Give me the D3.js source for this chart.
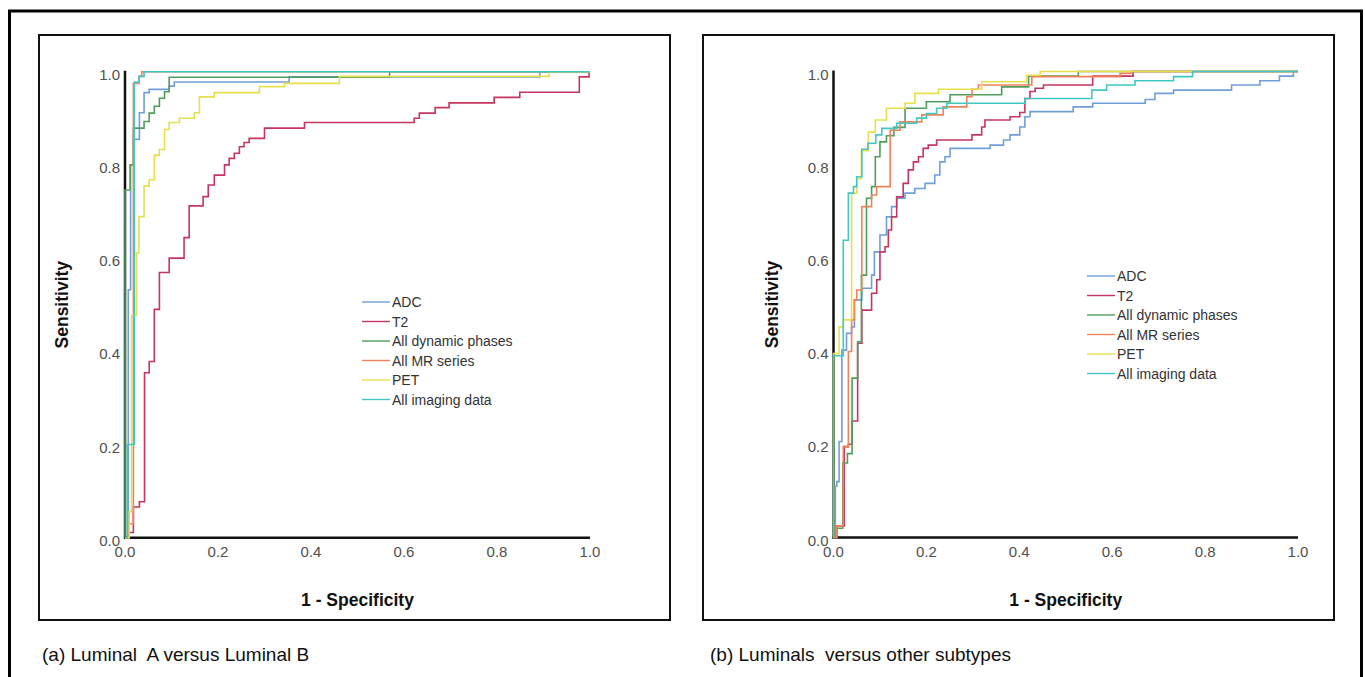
<!DOCTYPE html>
<html>
<head>
<meta charset="utf-8">
<script src="https://cdn.jsdelivr.net/npm/d3@7"></script>
<style>
  body { margin: 0; background: #fff; }
  svg text { font-family: "Liberation Sans", Arial, sans-serif; }
</style>
</head>
<body>
<svg id="chart" width="1365" height="677"></svg>
<script>
// series names + colours (same order in both panels)
const seriesNames = ["ADC", "T2", "All dynamic phases", "All MR series", "PET", "All imaging data"]
const seriesColors = ["#6f9fd8", "#c4365f", "#4f9d5c", "#f0825a", "#e6e04e", "#42c8c0"]
const ticks = [0, 0.2, 0.4, 0.6, 0.8, 1.0]
const captions = ["(a) Luminal  A versus Luminal B", "(b) Luminals  versus other subtypes"]

// ROC points [1 - specificity, sensitivity], drawn as steps (jump happens at x)
// (a) Luminal A vs Luminal B
const adcA = [[0,0],[0.007,0.532],[0.012,0.8],[0.018,0.855],[0.031,0.912],[0.041,0.955],[0.052,0.962],[0.095,0.969],[0.106,0.978],[0.353,0.989],[0.892,1.0],[1,1]]
const t2A = [[0,0],[0.009,0.011],[0.018,0.066],[0.031,0.077],[0.042,0.354],[0.052,0.378],[0.063,0.49],[0.074,0.569],[0.095,0.6],[0.127,0.644],[0.138,0.712],[0.168,0.732],[0.179,0.757],[0.192,0.778],[0.214,0.8],[0.224,0.814],[0.235,0.825],[0.246,0.839],[0.256,0.848],[0.267,0.857],[0.3,0.879],[0.386,0.891],[0.622,0.9],[0.633,0.911],[0.667,0.923],[0.697,0.933],[0.794,0.945],[0.849,0.956],[0.977,0.989],[0.998,1.0],[1,1]]
const dynA = [[0,0],[0,0.746],[0.011,0.8],[0.018,0.879],[0.041,0.893],[0.052,0.911],[0.063,0.926],[0.074,0.943],[0.085,0.957],[0.095,0.988],[0.569,1.0],[1,1]]
const mrA = [[0,0],[0.009,0.03],[0.018,0.975],[0.03,0.99],[0.036,1.0],[1,1]]
const petA = [[0,0],[0.009,0.056],[0.014,0.478],[0.025,0.611],[0.03,0.689],[0.041,0.755],[0.052,0.768],[0.063,0.821],[0.074,0.833],[0.085,0.876],[0.095,0.891],[0.117,0.9],[0.149,0.912],[0.16,0.946],[0.192,0.955],[0.289,0.968],[0.343,0.975],[0.461,0.99],[0.912,1.0],[1,1]]
const allA = [[0,0],[0.005,0.2],[0.02,0.978],[0.03,0.99],[0.041,1.0],[1,1]]

// (b) Luminals vs other subtypes
const adcB = [[0,0],[0.004,0.11],[0.007,0.12],[0.012,0.206],[0.018,0.402],[0.028,0.438],[0.039,0.452],[0.045,0.51],[0.061,0.535],[0.082,0.563],[0.088,0.613],[0.1,0.649],[0.114,0.688],[0.125,0.71],[0.136,0.728],[0.154,0.739],[0.175,0.749],[0.197,0.76],[0.218,0.778],[0.229,0.806],[0.24,0.817],[0.251,0.835],[0.337,0.842],[0.366,0.853],[0.38,0.864],[0.401,0.881],[0.412,0.903],[0.423,0.914],[0.516,0.924],[0.558,0.932],[0.671,0.94],[0.692,0.953],[0.732,0.96],[0.857,0.971],[0.918,0.98],[0.96,0.99],[0.99,1.0],[1,1]]
const t2B = [[0,0],[0.007,0.025],[0.023,0.195],[0.032,0.2],[0.04,0.25],[0.052,0.417],[0.061,0.488],[0.082,0.524],[0.093,0.553],[0.1,0.613],[0.111,0.624],[0.118,0.66],[0.125,0.688],[0.136,0.731],[0.15,0.76],[0.161,0.789],[0.172,0.806],[0.183,0.817],[0.193,0.835],[0.204,0.842],[0.222,0.853],[0.298,0.864],[0.319,0.881],[0.326,0.896],[0.38,0.903],[0.401,0.912],[0.412,0.942],[0.423,0.957],[0.434,0.964],[0.452,0.971],[0.558,0.99],[0.645,1.0],[1,1]]
const dynB = [[0,0],[0.007,0.02],[0.02,0.16],[0.03,0.18],[0.04,0.342],[0.052,0.42],[0.06,0.563],[0.071,0.728],[0.082,0.753],[0.09,0.817],[0.1,0.849],[0.114,0.862],[0.13,0.88],[0.154,0.921],[0.2,0.935],[0.251,0.95],[0.362,0.967],[0.42,0.99],[0.527,1.0],[1,1]]
const mrB = [[0,0],[0.007,0.025],[0.021,0.195],[0.032,0.399],[0.039,0.467],[0.045,0.51],[0.05,0.531],[0.061,0.71],[0.082,0.735],[0.093,0.753],[0.122,0.874],[0.143,0.892],[0.19,0.907],[0.236,0.924],[0.287,0.946],[0.298,0.962],[0.312,0.971],[0.427,0.989],[0.617,0.996],[0.64,1.0],[1,1]]
const petB = [[0,0],[0,0.395],[0.012,0.452],[0.021,0.467],[0.039,0.739],[0.05,0.77],[0.06,0.83],[0.075,0.87],[0.09,0.896],[0.114,0.921],[0.154,0.932],[0.175,0.953],[0.226,0.962],[0.319,0.978],[0.416,0.992],[0.445,1.0],[1,1]]
const allB = [[0,0],[0,0.39],[0.021,0.638],[0.032,0.739],[0.043,0.753],[0.05,0.774],[0.061,0.833],[0.074,0.846],[0.091,0.864],[0.104,0.878],[0.136,0.889],[0.179,0.9],[0.2,0.91],[0.222,0.921],[0.244,0.932],[0.412,0.942],[0.556,0.96],[0.588,0.971],[0.649,0.98],[0.732,0.989],[0.773,1.0],[1,1]]

const svg = d3.select("#chart")

// outer frame (bottom edge runs off the picture)
svg.append("path")
    .attr("d", "M9.5,690 L9.5,11 L1361.5,11 L1361.5,690")
    .attr("fill", "none")
    .attr("stroke", "#000")
    .attr("stroke-width", 3)

const panels = [
    {box: [39, 35, 670, 620], xr: [125, 590], yr: [537.7, 71.7], ytX: 62, leg: [362, 302], capX: 42,
     series: [adcA, t2A, dynA, mrA, petA, allA], caption: captions[0]},
    {box: [703, 35, 1334, 620], xr: [833.5, 1298], yr: [537.5, 71.5], ytX: 772, leg: [1087, 276], capX: 710,
     series: [adcB, t2B, dynB, mrB, petB, allB], caption: captions[1]}
]

panels.forEach(p => {
    const g = svg.append("g")
    const [bx0, by0, bx1, by1] = p.box
    g.append("rect")
        .attr("x", bx0).attr("y", by0)
        .attr("width", bx1 - bx0).attr("height", by1 - by0)
        .attr("fill", "none").attr("stroke", "#111").attr("stroke-width", 2)

    const x = d3.scaleLinear().domain([0, 1]).range(p.xr)
    const y = d3.scaleLinear().domain([0, 1]).range(p.yr)

    // tick labels (no tick marks in the original)
    g.append("g").selectAll("text")
      .data(ticks)
      .join("text")
        .attr("x", d => x(d))
        .attr("y", y(0) + 19)
        .attr("text-anchor", "middle")
        .attr("font-size", 15)
        .attr("fill", "#505050")
        .text(d3.format(".1f"))
    g.append("g").selectAll("text")
      .data(ticks)
      .join("text")
        .attr("x", x(0) - 5)
        .attr("y", d => y(d) + 8)
        .attr("text-anchor", "end")
        .attr("font-size", 15)
        .attr("fill", "#505050")
        .text(d3.format(".1f"))

    // axis lines
    g.append("line")
        .attr("x1", x(0)).attr("x2", x(0))
        .attr("y1", y(0) + 1).attr("y2", y(1) - 1)
        .attr("stroke", "#111").attr("stroke-width", 2.5)
    g.append("line")
        .attr("x1", x(0) - 1).attr("x2", x(1))
        .attr("y1", y(0)).attr("y2", y(0))
        .attr("stroke", "#111").attr("stroke-width", 2.5)

    // curves on top of axes, like the original
    const line = d3.line()
        .x(d => x(d[0]))
        .y(d => y(d[1]))
        .curve(d3.curveStepAfter)
    g.append("g").selectAll("path")
      .data(p.series)
      .join("path")
        .attr("d", line)
        .attr("fill", "none")
        .attr("stroke", (d, i) => seriesColors[i])
        .attr("stroke-width", 1.6)

    // titles
    g.append("text")
        .attr("x", (p.xr[0] + p.xr[1]) / 2)
        .attr("y", 606)
        .attr("text-anchor", "middle")
        .attr("font-size", 17.5)
        .attr("font-weight", "bold")
        .attr("fill", "#111")
        .text("1 - Specificity")
    g.append("text")
        .attr("transform", `translate(${p.ytX + 6},${(p.yr[0] + p.yr[1]) / 2}) rotate(-90)`)
        .attr("text-anchor", "middle")
        .attr("font-size", 17.5)
        .attr("font-weight", "bold")
        .attr("fill", "#111")
        .text("Sensitivity")

    // legend
    const leg = g.append("g").selectAll("g")
      .data(seriesNames)
      .join("g")
        .attr("transform", (d, i) => `translate(${p.leg[0]},${p.leg[1] + i * 19.5})`)
    leg.append("line")
        .attr("x1", 0).attr("x2", 28)
        .attr("stroke", (d, i) => seriesColors[i])
        .attr("stroke-width", 1.4)
    leg.append("text")
        .attr("x", 30)
        .attr("y", 5)
        .attr("font-size", 14)
        .attr("fill", "#333")
        .text(d => d)

    // caption
    svg.append("text")
        .attr("x", p.capX)
        .attr("y", 661)
        .attr("font-size", 19)
        .attr("fill", "#111")
        .style("white-space", "pre")
        .text(p.caption)
})
</script>
</body>
</html>
